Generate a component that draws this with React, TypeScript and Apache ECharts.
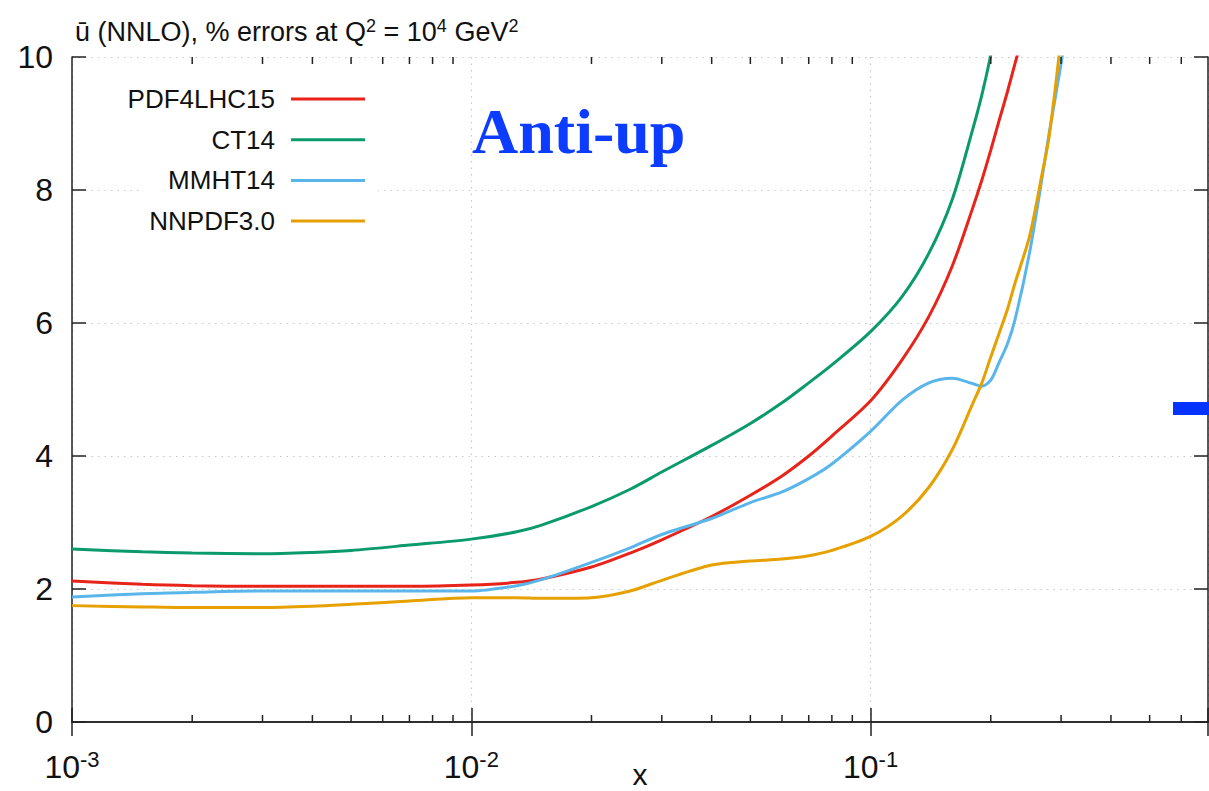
import React, { useEffect, useRef } from 'react';
import * as echarts from 'echarts';

// x sample points (momentum fraction)
const xValues = [0.001, 0.0015, 0.002, 0.003, 0.004, 0.005, 0.007, 0.01, 0.013, 0.015, 0.02, 0.025, 0.03, 0.04, 0.05, 0.06, 0.07, 0.08, 0.1, 0.12, 0.14, 0.16, 0.18, 0.19, 0.2, 0.21, 0.22, 0.23, 0.25, 0.27, 0.28, 0.3, 0.32];

const pdf4lhc15 = [2.12, 2.07, 2.05, 2.04, 2.04, 2.04, 2.04, 2.06, 2.10, 2.15, 2.33, 2.54, 2.74, 3.09, 3.41, 3.70, 4.0, 4.3, 4.83, 5.45, 6.1, 6.85, 7.72, 8.15, 8.6, 9.05, 9.47, 9.9, 10.7, 11.6, 12.1, 13.0, 14.0];
const ct14 = [2.60, 2.56, 2.54, 2.53, 2.55, 2.58, 2.66, 2.75, 2.86, 2.96, 3.24, 3.50, 3.76, 4.16, 4.49, 4.80, 5.10, 5.37, 5.87, 6.4, 7.05, 7.85, 8.9, 9.43, 10.03, 10.7, 11.4, 12.1, 13.5, 15.0, 15.8, 17.0, 18.5];
const mmht14 = [1.88, 1.93, 1.95, 1.97, 1.97, 1.97, 1.97, 1.97, 2.05, 2.14, 2.40, 2.62, 2.82, 3.06, 3.30, 3.46, 3.66, 3.88, 4.37, 4.84, 5.10, 5.17, 5.09, 5.05, 5.14, 5.41, 5.68, 6.05, 7.05, 8.25, 8.85, 9.9, 11.0];
const nnpdf30 = [1.75, 1.73, 1.72, 1.72, 1.74, 1.77, 1.82, 1.87, 1.87, 1.86, 1.87, 1.97, 2.13, 2.36, 2.42, 2.45, 2.50, 2.58, 2.79, 3.10, 3.53, 4.09, 4.78, 5.10, 5.49, 5.85, 6.2, 6.6, 7.3, 8.3, 8.8, 10.3, 12.0];

const seriesNames = ['PDF4LHC15', 'CT14', 'MMHT14', 'NNPDF3.0'];
const seriesValues = [pdf4lhc15, ct14, mmht14, nnpdf30];
const seriesColors = ['#e8231a', '#0a9a6c', '#5ab6ea', '#e6a000'];

const xMin = 0.001;
const xMax = 0.7;
const yMin = 0;
const yMax = 10;
const yInterval = 2;
const minorTickValues = [0.002, 0.003, 0.004, 0.005, 0.006, 0.007, 0.008, 0.009, 0.02, 0.03, 0.04, 0.05, 0.06, 0.07, 0.08, 0.09, 0.2, 0.3, 0.4, 0.5, 0.6];

const titleText = '{n|ū (NNLO), % errors at Q}{s|2}{n| = 10}{s|4}{n| GeV}{s|2}';
const annotationText = 'Anti-up';
const xAxisName = 'x';

const FONT = '"Liberation Sans", Arial, Helvetica, sans-serif';
const AXIS_COLOR = '#222';

export default function App() {
  const ref = useRef<HTMLDivElement>(null);

  useEffect(() => {
    document.body.style.margin = '0';
    if (!ref.current) return;
    const chart = echarts.init(ref.current, undefined, { renderer: 'svg' });

    const lineSeries = seriesNames.map((name, i) => ({
      name,
      type: 'line',
      data: xValues.map((x, j) => [x, seriesValues[i][j]]),
      showSymbol: false,
      smooth: 0.3,
      clip: true,
      lineStyle: { color: seriesColors[i], width: 3 },
      itemStyle: { color: seriesColors[i] },
      z: 3,
    }));

    const legendTop = 99;
    const legendStep = 40.7;
    const legendElements: any[] = [
      {
        type: 'rect',
        shape: { x: 140, y: 78, width: 238, height: 162 },
        style: { fill: '#fff' },
        z: 1,
      },
    ];
    seriesNames.forEach((name, i) => {
      const y = legendTop + i * legendStep;
      legendElements.push({
        type: 'text',
        x: 275,
        y,
        style: {
          text: name,
          font: `26px ${FONT}`,
          fill: '#111',
          textAlign: 'right',
          textVerticalAlign: 'middle',
        },
        z: 10,
      });
      legendElements.push({
        type: 'line',
        shape: { x1: 291, y1: y, x2: 365, y2: y },
        style: { stroke: seriesColors[i], lineWidth: 3 },
        z: 10,
      });
    });

    const option: any = {
      animation: false,
      backgroundColor: '#fff',
      title: {
        text: titleText,
        left: 70,
        top: 12,
        textStyle: {
          fontWeight: 'normal',
          rich: {
            n: { fontSize: 27, fontWeight: 'normal', fontFamily: FONT, color: '#111', verticalAlign: 'bottom' },
            s: { fontSize: 18, fontWeight: 'normal', fontFamily: FONT, color: '#111', verticalAlign: 'bottom', padding: [0, 0, 10, 0] },
          },
        },
      },
      grid: { left: 72, right: 1, top: 57, bottom: 69, containLabel: false, outerBoundsMode: 'none' },
      xAxis: [
        {
          type: 'log',
          logBase: 10,
          min: xMin,
          max: xMax,
          position: 'bottom',
          axisLine: { show: true, lineStyle: { color: AXIS_COLOR, width: 1.5 } },
          axisTick: { show: true, inside: true, length: 14, lineStyle: { color: AXIS_COLOR, width: 1.5 } },
          axisLabel: {
            margin: 26,
            formatter: (v: number) => {
              const e = Math.round(Math.log10(v));
              if (Math.abs(v - Math.pow(10, e)) / v > 1e-6) return '';
              return `{b|10}{s|${e}}`;
            },
            rich: {
              b: { fontSize: 32, fontFamily: FONT, color: '#111', verticalAlign: 'bottom' },
              s: { fontSize: 22, fontFamily: FONT, color: '#111', verticalAlign: 'bottom', padding: [0, 0, 13, 0] },
            },
          },
          splitLine: { show: true, lineStyle: { color: '#c8c8c8', width: 1.2, type: [1.5, 5] } },
        },
        {
          type: 'log',
          logBase: 10,
          min: xMin,
          max: xMax,
          position: 'top',
          axisLine: { show: true, lineStyle: { color: AXIS_COLOR, width: 1.5 } },
          axisTick: { show: true, inside: true, length: 14, lineStyle: { color: AXIS_COLOR, width: 1.5 } },
          axisLabel: { show: false },
          splitLine: { show: false },
        },
      ],
      yAxis: [
        {
          type: 'value',
          min: yMin,
          max: yMax,
          interval: yInterval,
          position: 'left',
          axisLine: { show: true, lineStyle: { color: AXIS_COLOR, width: 1.5 } },
          axisTick: { show: true, inside: true, length: 14, lineStyle: { color: AXIS_COLOR, width: 1.5 } },
          axisLabel: { fontSize: 32, fontFamily: FONT, color: '#111', margin: 19 },
          splitLine: { show: true, lineStyle: { color: '#c8c8c8', width: 1.2, type: [1.5, 5] } },
        },
        {
          type: 'value',
          min: yMin,
          max: yMax,
          interval: yInterval,
          position: 'right',
          axisLine: { show: true, lineStyle: { color: AXIS_COLOR, width: 1.5 } },
          axisTick: { show: true, inside: true, length: 14, lineStyle: { color: AXIS_COLOR, width: 1.5 } },
          axisLabel: { show: false },
          splitLine: { show: false },
        },
      ],
      series: [
        ...lineSeries,
        {
          name: 'minorTicks',
          type: 'custom',
          silent: true,
          xAxisIndex: 0,
          yAxisIndex: 0,
          data: minorTickValues.map((v) => [v, yMin]),
          encode: { x: 0, y: 1 },
          renderItem: (params: any, api: any) => {
            const v = api.value(0);
            const pb = api.coord([v, yMin]);
            const pt = api.coord([v, yMax]);
            const st = { stroke: AXIS_COLOR, lineWidth: 1.5 };
            return {
              type: 'group',
              children: [
                { type: 'line', shape: { x1: pb[0], y1: pb[1], x2: pb[0], y2: pb[1] - 7 }, style: st },
                { type: 'line', shape: { x1: pt[0], y1: pt[1], x2: pt[0], y2: pt[1] + 7 }, style: st },
              ],
            };
          },
          z: 4,
        },
      ],
      graphic: [
        ...legendElements,
        {
          type: 'text',
          x: 640,
          y: 774,
          style: {
            text: xAxisName,
            font: `30px ${FONT}`,
            fill: '#111',
            textAlign: 'center',
            textVerticalAlign: 'middle',
          },
          z: 10,
        },
        {
          type: 'text',
          x: 472,
          y: 131,
          style: {
            text: annotationText,
            font: `bold 64px "Liberation Serif", "Times New Roman", serif`,
            fill: '#0b3cff',
            textAlign: 'left',
            textVerticalAlign: 'middle',
          },
          z: 10,
        },
        {
          type: 'rect',
          shape: { x: 1173, y: 402, width: 36, height: 13 },
          style: { fill: '#0433ff' },
          z: 10,
        },
      ],
    };

    chart.setOption(option);
    return () => chart.dispose();
  }, []);

  return <div ref={ref} style={{ width: 1209, height: 791 }} />;
}
